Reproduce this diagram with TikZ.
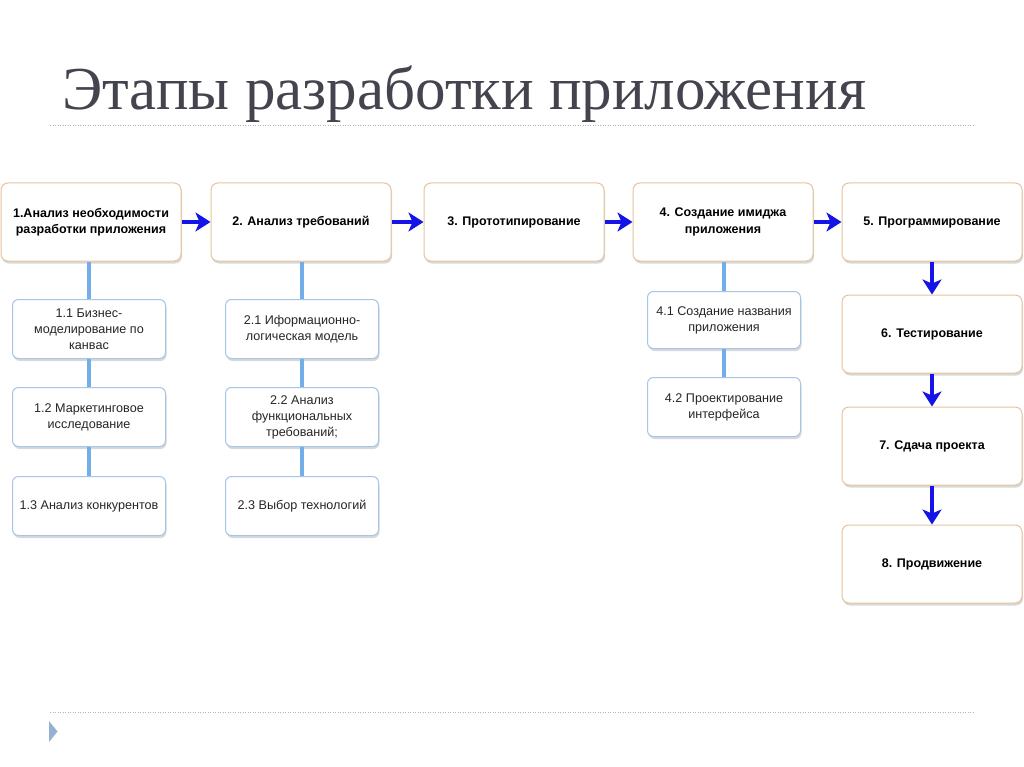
\documentclass[tikz,border=0pt]{standalone}
\usepackage{fontspec}
\setmainfont{Liberation Serif}
\setsansfont{Liberation Sans}
\usepackage{xcolor}
\usetikzlibrary{shapes,arrows.meta,positioning,shadows,calc}

\definecolor{etapborder}{HTML}{E6C49E}
\definecolor{subborder}{HTML}{A6C6E6}
\definecolor{linkblue}{HTML}{72AEE8}
\definecolor{flowblue}{HTML}{1414E6}
\definecolor{titlegray}{HTML}{44444E}
\definecolor{dotgray}{HTML}{B4B4B8}
\definecolor{bullet}{HTML}{93B2D2}

\begin{document}
\begin{tikzpicture}[x=1pt,y=-1pt,
  etap/.style={rectangle, rounded corners=7pt, draw=etapborder, line width=1pt, fill=white,
    minimum width=180pt, minimum height=78pt, align=center, font=\sffamily\bfseries\fontsize{12.5}{16.5}\selectfont,
    drop shadow={shadow xshift=1pt, shadow yshift=-2.5pt, fill=black!30}},
  substep/.style={rectangle, rounded corners=6pt, draw=subborder, line width=1pt, fill=white,
    minimum width=153pt, minimum height=59pt, align=center, inner xsep=2pt,
    font=\sffamily\fontsize{12.6}{16}\selectfont, text=black!85,
    drop shadow={shadow xshift=1pt, shadow yshift=-2.5pt, fill=black!30}},
  link/.style={linkblue, line width=4pt},
  flow/.style={flowblue, line width=4.5pt, -{Stealth[length=15pt, width=19pt, inset=4pt]}}]
\useasboundingbox (0,0) rectangle (1024,767);

\node[anchor=base west, text=titlegray, font=\fontsize{61}{64}\selectfont, inner sep=0pt] (title) at (62,110) {Этапы разработки приложения};
\coordinate (rule1a) at (50,126);
\coordinate (rule1b) at (975,126);
\coordinate (rule2a) at (50,712);
\coordinate (rule2b) at (975,712);
\draw[dotgray, line width=1pt, dash pattern=on 1pt off 1.5pt] (rule1a) -- (rule1b);
\draw[dotgray, line width=1pt, dash pattern=on 1pt off 1.5pt] (rule2a) -- (rule2b);
\fill[bullet] (49,721) -- (57.5,731.5) -- (49,742) -- cycle;

% main stages
\node[etap] (e1) at (91,222) {1.Анализ необходимости\\разработки приложения};
\node[etap] (e2) at (301,222) {2. Анализ требований};
\node[etap] (e3) at (514,222) {3. Прототипирование};
\node[etap] (e4) at (723,222) {4. Создание имиджа\\приложения};
\node[etap] (e5) at (932,222) {5. Программирование};
\node[etap] (e6) at (932,334) {6. Тестирование};
\node[etap] (e7) at (932,446) {7. Сдача проекта};
\node[etap] (e8) at (932,564) {8. Продвижение};

% sub-steps
\node[substep] (s11) at (89,329) {1.1 Бизнес-\\моделирование по\\канвас};
\node[substep] (s12) at (89,417) {1.2 Маркетинговое\\исследование};
\node[substep] (s13) at (89,506) {1.3 Анализ конкурентов};
\node[substep] (s21) at (302,329) {2.1 Иформационно-\\логическая модель};
\node[substep] (s22) at (302,417) {2.2 Анализ\\функциональных\\требований;};
\node[substep] (s23) at (302,506) {2.3 Выбор технологий};
\node[substep, minimum height=57pt] (s41) at (724,320) {4.1 Создание названия\\приложения};
\node[substep] (s42) at (724,407) {4.2 Проектирование\\интерфейса};

\draw[link] (e1.south -| s11) -- (s11);
\draw[link] (s11) -- (s12);
\draw[link] (s12) -- (s13);
\draw[link] (e2.south -| s21) -- (s21);
\draw[link] (s21) -- (s22);
\draw[link] (s22) -- (s23);
\draw[link] (e4.south -| s41) -- (s41);
\draw[link] (s41) -- (s42);

\draw[flow] (e1) -- (e2);
\draw[flow] (e2) -- (e3);
\draw[flow] (e3) -- (e4);
\draw[flow] (e4) -- (e5);
\draw[flow] (e5) -- (e6);
\draw[flow] (e6) -- (e7);
\draw[flow] (e7) -- (e8);
\end{tikzpicture}
\end{document}
